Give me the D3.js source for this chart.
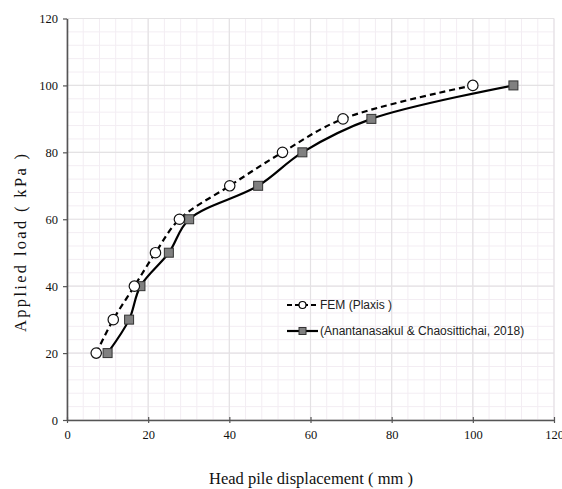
<!DOCTYPE html>
<html><head><meta charset="utf-8">
<script src="https://cdn.jsdelivr.net/npm/d3@7"></script>
<style>body{margin:0;background:#fff}svg{display:block}.tick text{font-family:'Liberation Serif',serif !important;font-size:12.5px !important}</style>
</head><body>
<svg id="c" width="562" height="489"></svg>
<script>
const femX = [7.2, 11.4, 16.6, 21.8, 27.7, 40.1, 53.1, 68, 100];
const femY = [20, 30, 40, 50, 60, 70, 80, 90, 100];
const expX = [10, 15.3, 18.1, 25.1, 30.1, 47.1, 58, 75, 110];
const expY = [20, 30, 40, 50, 60, 70, 80, 90, 100];
const xTicks = [0, 20, 40, 60, 80, 100, 120];
const yTicks = [0, 20, 40, 60, 80, 100, 120];
const minorTicks = d3.range(0, 121, 4);
const seriesNames = ["FEM (Plaxis )", "(Anantanasakul & Chaosittichai, 2018)"];

const svg = d3.select("#c");
const x = d3.scaleLinear().domain([0, 120]).range([67, 554]);
const y = d3.scaleLinear().domain([0, 120]).range([420, 18.5]);

const g = svg.append("g");
g.selectAll(".mx").data(minorTicks).enter().append("line")
  .attr("x1", d => x(d)).attr("x2", d => x(d)).attr("y1", y(0)).attr("y2", y(120))
  .attr("stroke", "#f3edf3").attr("stroke-width", 1);
g.selectAll(".my").data(minorTicks).enter().append("line")
  .attr("y1", d => y(d)).attr("y2", d => y(d)).attr("x1", x(0)).attr("x2", x(120))
  .attr("stroke", "#f3edf3").attr("stroke-width", 1);
g.selectAll(".Mx").data(xTicks).enter().append("line")
  .attr("x1", d => x(d)).attr("x2", d => x(d)).attr("y1", y(0)).attr("y2", y(120))
  .attr("stroke", "#e4e2e4").attr("stroke-width", 1.2);
g.selectAll(".My").data(yTicks).enter().append("line")
  .attr("y1", d => y(d)).attr("y2", d => y(d)).attr("x1", x(0)).attr("x2", x(120))
  .attr("stroke", "#e4e2e4").attr("stroke-width", 1.2);

const xAxis = d3.axisBottom(x).tickValues(xTicks).tickSize(4).tickSizeOuter(0);
const yAxis = d3.axisLeft(y).tickValues(yTicks).tickSize(4).tickSizeOuter(0);
const gx = svg.append("g").attr("transform", `translate(0,${y(0)})`).call(xAxis);
const gy = svg.append("g").attr("transform", `translate(${x(0)},0)`).call(yAxis);
[gx, gy].forEach(a => {
  a.attr("font-family", "Liberation Serif").attr("font-size", 12.5);
  a.select(".domain").attr("stroke", "#555").attr("stroke-width", 1.6);
  a.selectAll(".tick line").attr("stroke", "#555").attr("stroke-width", 1.2);
  a.selectAll(".tick text").attr("font-family", "Liberation Serif").attr("fill", "#111");
});
gx.selectAll(".tick line").attr("y1", -3).attr("y2", 3);
gx.selectAll(".tick text").attr("y", 10);
gy.selectAll(".tick text").attr("x", -9);

const line = (xs, ys) => d3.line().curve(d3.curveCatmullRom.alpha(0.5))
  .x((d, i) => x(xs[i])).y((d, i) => y(ys[i]))(xs);
svg.append("path").attr("d", line(femX, femY)).attr("fill", "none")
  .attr("stroke", "#000").attr("stroke-width", 2.2).attr("stroke-dasharray", "6,4");
svg.append("path").attr("d", line(expX, expY)).attr("fill", "none")
  .attr("stroke", "#000").attr("stroke-width", 2.2);

svg.selectAll(".sq").data(expX).enter().append("rect")
  .attr("x", (d) => x(d) - 4.5).attr("y", (d, i) => y(expY[i]) - 4.5)
  .attr("width", 9).attr("height", 9)
  .attr("fill", "#808080").attr("stroke", "#333").attr("stroke-width", 1);
svg.selectAll(".ci").data(femX).enter().append("circle")
  .attr("cx", d => x(d)).attr("cy", (d, i) => y(femY[i])).attr("r", 5.2)
  .attr("fill", "#fff").attr("stroke", "#111").attr("stroke-width", 1.2);

const lg = svg.append("g");
lg.append("line").attr("x1", 287).attr("x2", 318).attr("y1", 305).attr("y2", 305)
  .attr("stroke", "#000").attr("stroke-width", 2).attr("stroke-dasharray", "5,3");
lg.append("circle").attr("cx", 302.5).attr("cy", 305).attr("r", 3.5)
  .attr("fill", "#fff").attr("stroke", "#000").attr("stroke-width", 1.2);
lg.append("line").attr("x1", 287).attr("x2", 318).attr("y1", 331).attr("y2", 331)
  .attr("stroke", "#000").attr("stroke-width", 2.2);
lg.append("rect").attr("x", 299).attr("y", 327.5).attr("width", 7).attr("height", 7)
  .attr("fill", "#808080").attr("stroke", "#333").attr("stroke-width", 1);
lg.selectAll("text").data(seriesNames).enter().append("text")
  .attr("x", 320).attr("y", (d, i) => 305 + i * 26).attr("dy", "0.35em")
  .attr("font-family", "Liberation Sans Narrow, Arial Narrow, sans-serif").attr("font-size", 12)
  .attr("fill", "#222").text(d => d);

svg.append("text").attr("x", 311).attr("y", 484).attr("text-anchor", "middle")
  .attr("font-family", "Liberation Serif").attr("font-size", 16.5).attr("fill", "#111")
  .text("Head  pile displacement ( mm )");
svg.append("text").attr("transform", "translate(26,243) rotate(-90)").attr("text-anchor", "middle")
  .attr("font-family", "Liberation Serif").attr("font-size", 16.5).attr("fill", "#111")
  .attr("textLength", 178).attr("lengthAdjust", "spacing")
  .text("Applied load ( kPa )");
</script>
</body></html>
